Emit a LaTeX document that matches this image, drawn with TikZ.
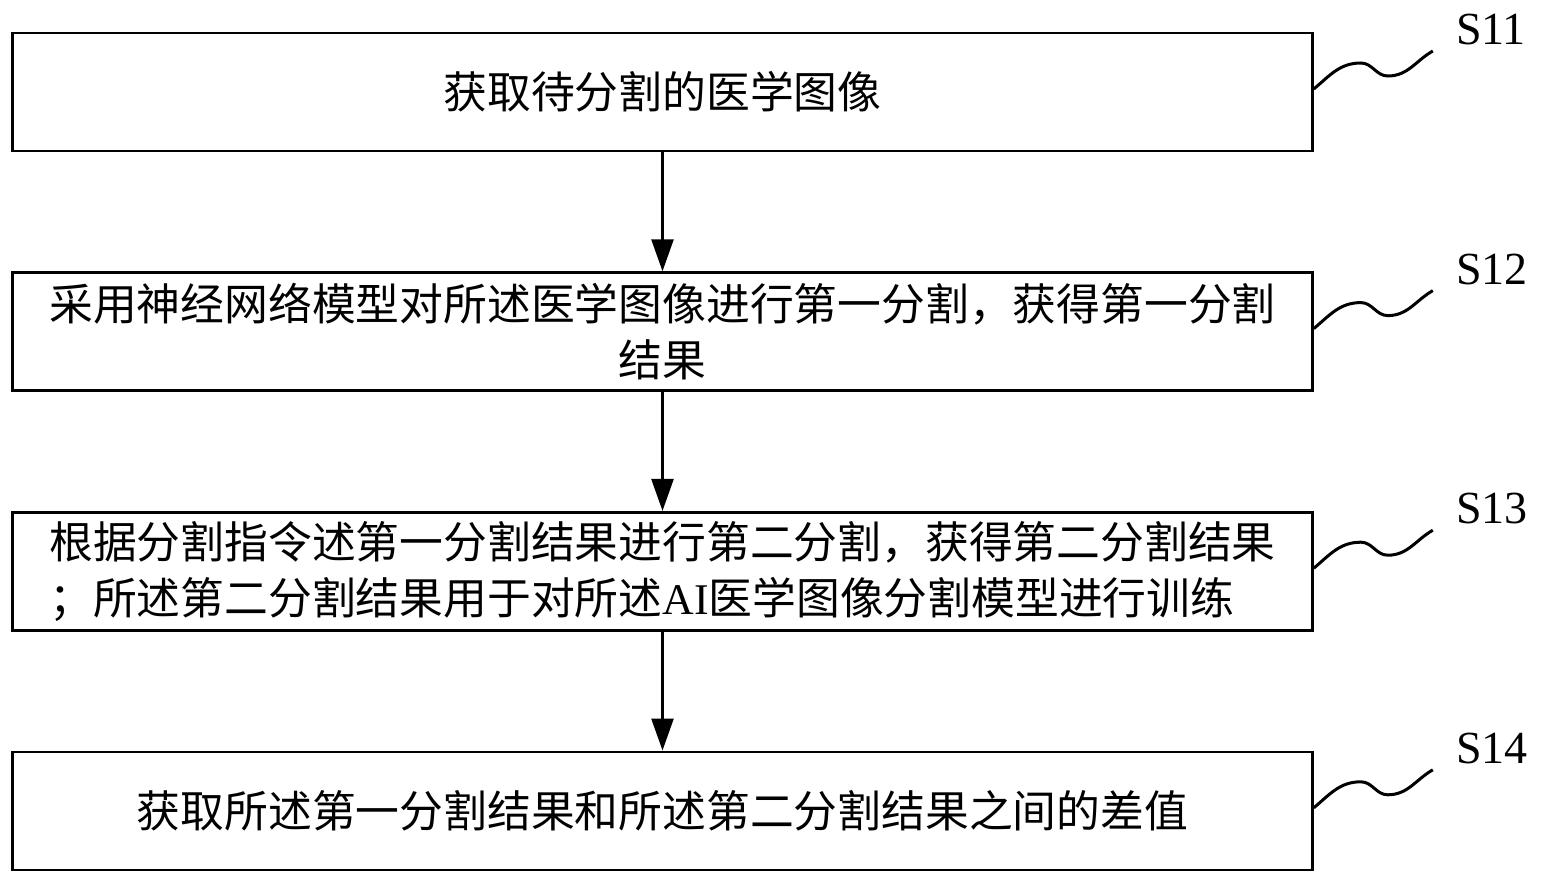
\documentclass[tikz,border=0pt]{standalone}
\usepackage{fontspec}
\setmainfont{Liberation Serif}
\newfontfamily\cjk{Noto Sans CJK SC}
\usetikzlibrary{arrows.meta,positioning}

\begin{document}
\begin{tikzpicture}[x=1pt,y=1pt,>={Triangle[width=22pt,length=32pt]},node distance=119pt,
  box/.style={draw,line width=2.6pt,minimum width=1300pt,minimum height=118pt,
    font=\fontsize{43.8}{56}\selectfont\cjk,align=center},
  tag/.style={font=\fontsize{46}{46}\selectfont,anchor=base west,inner sep=0pt},
  wave/.style={line width=3pt}]
  \useasboundingbox (0,0) rectangle (1543,-885);

  \node[box] (b1) at (662.5,-92) {获取待分割的医学图像};
  \node[box] (b2) [below=of b1] {采用神经网络模型对所述医学图像进行第一分割，获得第一分割\\结果};
  \node[box,align=left] (b3) [below=of b2] {根据分割指令述第一分割结果进行第二分割，获得第二分割结果\\；所述第二分割结果用于对所述{\rmfamily AI}医学图像分割模型进行训练};
  \node[box] (b4) [below=of b3] {获取所述第一分割结果和所述第二分割结果之间的差值};

  \path[->,line width=2.6pt] (b1) edge (b2)
                             (b2) edge (b3)
                             (b3) edge (b4);

  % step tags with wavy leaders
  \foreach \i in {1,...,4} {
    \node[tag] (s\i) at ([xshift=142pt,yshift=-13pt]b\i.north east) {S1\i};
    \draw[wave] ([yshift=3pt]b\i.east) to[out=40,in=180] ++(47,26)
      to[out=0,in=180] ++(27,-13) to[out=0,in=210] ++(45,25);
  }
\end{tikzpicture}
\end{document}
